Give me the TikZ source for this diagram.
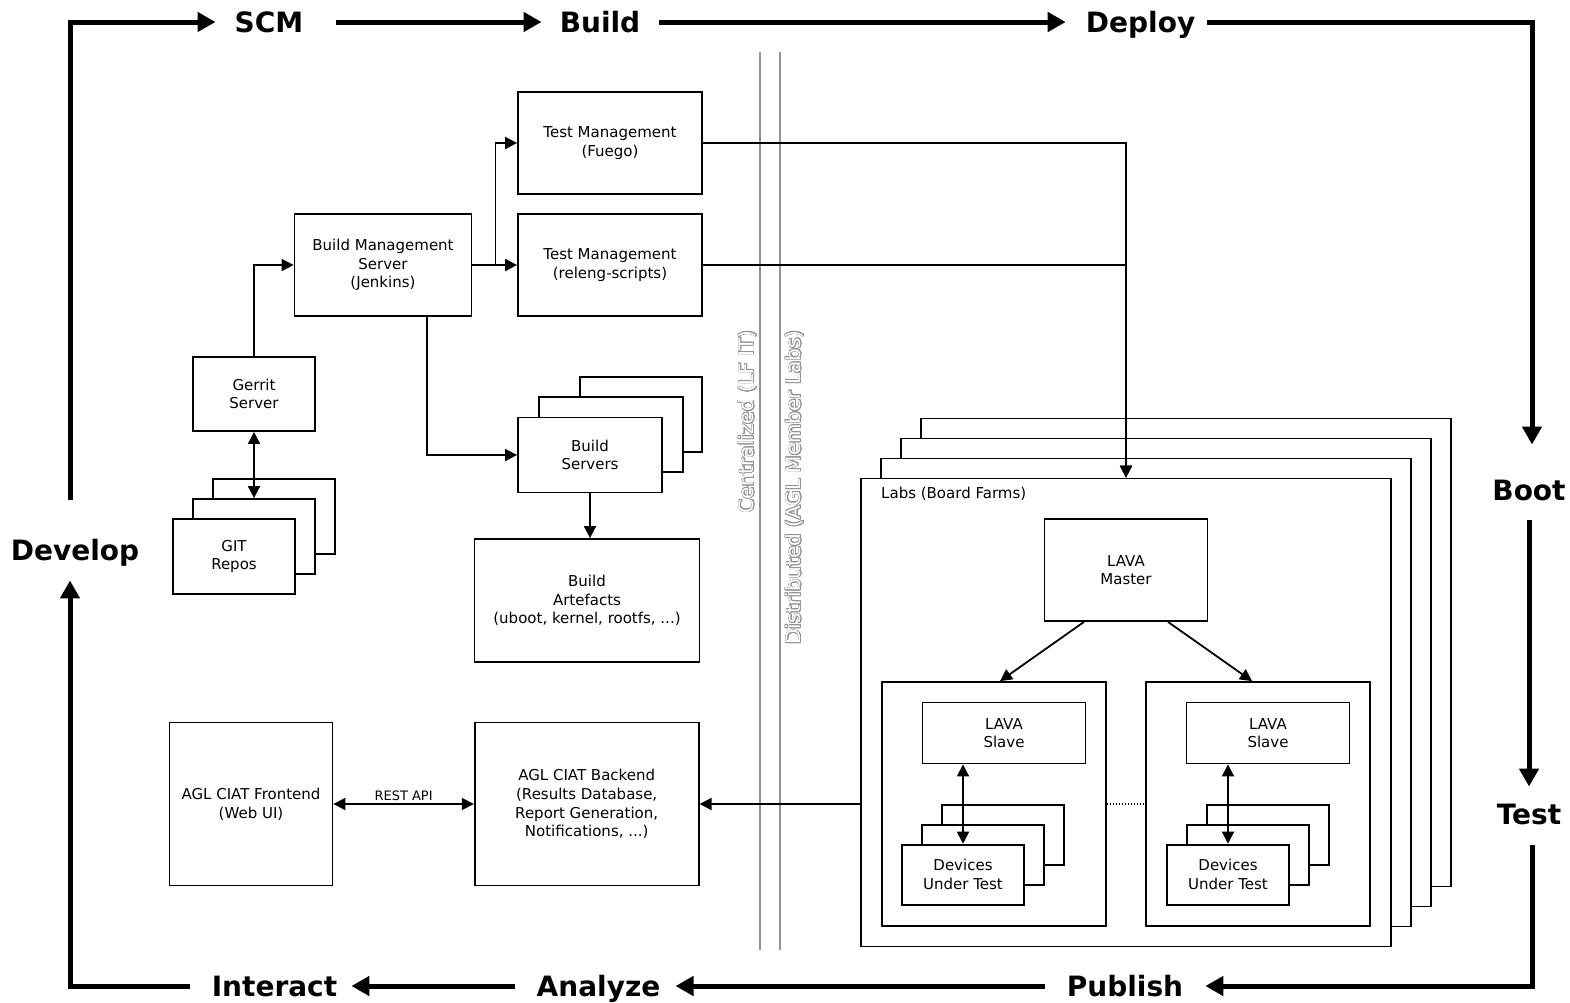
\documentclass[tikz,border=0pt]{standalone}
\usepackage{fontspec}
\setmainfont{DejaVu Sans}
\usepackage[copies]{contour}
\contourlength{0.8pt}
\usetikzlibrary{arrows.meta}
\begin{document}
\begin{tikzpicture}[x=1pt,y=-1pt,
  box/.style={draw, line width=1.8pt, fill=white, align=center, inner sep=0pt, font=\fontsize{15}{18.6}\selectfont},
  back/.style={draw, line width=1.8pt, fill=white, inner sep=0pt},
  conn/.style={line width=1.8pt, -{Triangle[length=12pt,width=12pt]}},
  dconn/.style={line width=1.8pt, {Triangle[length=12pt,width=12pt]}-{Triangle[length=12pt,width=12pt]}},
  dotline/.style={line width=1.5pt, dash pattern=on 1.5pt off 1.5pt},
  cyc/.style={font=\fontsize{28}{30}\selectfont\bfseries, inner sep=0pt, text height=20.5pt, text depth=0pt},
  big/.style={line width=5pt, -{Triangle[length=18pt,width=19pt]}},
  divider/.style={line width=1.4pt, draw=gray!85},
  vlabel/.style={rotate=90, anchor=east, inner sep=0pt, font=\fontsize{20}{22}\selectfont},
]
\fill[white] (0,0) rectangle (1570,1002);
\useasboundingbox (0,0) rectangle (1570,1002);

% cycle labels
\node[cyc] (scm) at (269,22) {SCM};
\node[cyc] (build) at (600,22) {Build};
\node[cyc] (deploy) at (1140.6,22) {Deploy};
\node[cyc] (boot) at (1529,490) {Boot};
\node[cyc] (test) at (1529,814) {Test};
\node[cyc] (publish) at (1125,986) {Publish};
\node[cyc] (analyze) at (598.5,986) {Analyze};
\node[cyc] (interact) at (274.5,986) {Interact};
\node[cyc] (develop) at (75,550) {Develop};

% cycle connectors
\draw[big, shorten >=19pt] ([shift={(-5,-40)}]develop.north) |- (scm.west);
\draw[big, shorten <=33pt, shorten >=18pt] (scm.east) -- (build.west);
\draw[big, shorten <=18.5pt, shorten >=20pt] (build.east) -- (deploy.west);
\draw[big, shorten <=12pt, shorten >=35pt] (deploy.east) -| ([xshift=3pt]boot.north);
\draw[big, shorten <=20pt, shorten >=17pt] (boot.south) -- (test.north);
\draw[big, shorten <=21pt, shorten >=22pt] ([xshift=3pt]test.south) |- (publish.east);
\draw[big, shorten <=22pt, shorten >=15pt] (publish.west) -- (analyze.east);
\draw[big, shorten <=21pt, shorten >=14pt] (analyze.west) -- (interact.east);
\draw[big, shorten <=22pt, shorten >=20pt] (interact.west) -| ([xshift=-5pt]develop.south);

% dividers
\draw[divider] (760,52) coordinate (d1a) -- (760,950) coordinate (d1b);
\draw[divider] (780,52) coordinate (d2a) -- (780,950) coordinate (d2b);
\node[vlabel] (central) at (748,330) {\contour{gray!85}{\textcolor{white}{Centralized (LF IT)}}};
\node[vlabel] (distrib) at (795,330) {\contour{gray!85}{\textcolor{white}{Distributed (AGL Member Labs)}}};

% centralized boxes
\node[box, minimum width=184pt, minimum height=102pt] (tmf) at (610,143) {Test Management\\(Fuego)};
\node[box, minimum width=184pt, minimum height=102pt] (tmr) at (610,265) {Test Management\\(releng-scripts)};
\node[box, minimum width=177pt, minimum height=102pt] (bms) at (383,265) {Build Management\\Server\\(Jenkins)};
\node[box, minimum width=122pt, minimum height=74pt] (gerrit) at (254,394) {Gerrit\\Server};

\node[back, minimum width=122pt, minimum height=75pt] (git3) at (274,516.5) {};
\node[back, minimum width=122pt, minimum height=75pt] (git2) at (254,536.5) {};
\node[box, minimum width=122pt, minimum height=75pt] (git) at (234,556.5) {GIT\\Repos};

\node[back, minimum width=122pt, minimum height=75pt] (bs3) at (641,414.5) {};
\node[back, minimum width=144pt, minimum height=75pt] (bs2) at (611,434.5) {};
\node[box, minimum width=144pt, minimum height=75pt] (bs) at (590,455) {Build\\Servers};

\node[box, minimum width=225pt, minimum height=123pt] (art) at (587,600.5) {Build\\Artefacts\\(uboot, kernel, rootfs, ...)};

\node[box, minimum width=163pt, minimum height=163pt] (frontend) at (251,804) {AGL CIAT Frontend\\(Web UI)};
\node[box, minimum width=224pt, minimum height=163pt] (backend) at (586.7,804) {AGL CIAT Backend\\(Results Database,\\Report Generation,\\Notifications, ...)};

% labs stack
\node[back, minimum width=530pt, minimum height=468pt] (labs4) at (1186,652.5) {};
\node[back, minimum width=530pt, minimum height=468pt] (labs3) at (1166,672.5) {};
\node[back, minimum width=530pt, minimum height=468pt] (labs2) at (1146,692.5) {};
\node[box, minimum width=530pt, minimum height=468pt] (labs) at (1126,712.5) {};
\node[anchor=west, inner sep=0pt, font=\fontsize{15}{18.6}\selectfont] (labslbl) at (881,494) {Labs (Board Farms)};

\node[box, minimum width=163pt, minimum height=102pt] (master) at (1126,570) {LAVA\\Master};
\node[box, minimum width=224pt, minimum height=244pt] (contL) at (994,804) {};
\node[box, minimum width=224pt, minimum height=244pt] (contR) at (1258,804) {};
\node[box, minimum width=163pt, minimum height=61pt] (slaveL) at (1004,733) {LAVA\\Slave};
\node[box, minimum width=163pt, minimum height=61pt] (slaveR) at (1268,733) {LAVA\\Slave};

\node[back, minimum width=122pt, minimum height=60pt] (dutL3) at (1003,834.6) {};
\node[back, minimum width=122pt, minimum height=60pt] (dutL2) at (983,854.6) {};
\node[box, minimum width=122pt, minimum height=60pt] (dutL) at (963,874.6) {Devices\\Under Test};
\node[back, minimum width=122pt, minimum height=60pt] (dutR3) at (1268,834.6) {};
\node[back, minimum width=122pt, minimum height=60pt] (dutR2) at (1248,854.6) {};
\node[box, minimum width=122pt, minimum height=60pt] (dutR) at (1228,874.6) {Devices\\Under Test};

% connectors
\draw[conn] (gerrit.north) |- (bms.west);
\draw[dconn] (gerrit.south) -- (git2.north);
\draw[conn] (bms.east) -- (tmr.west);
\draw[conn] ([xshift=23pt]bms.east) |- (tmf.west);
\draw[conn] ([xshift=44pt]bms.south) |- (bs.west);
\draw[conn] (bs.south) -- (bs.south |- art.north);
\draw[conn] (tmf.east) -| (labs.north);
\draw[conn] (tmr.east) -| (labs.north);
\draw[conn] ([xshift=-42pt]master.south) -- ([xshift=6pt]contL.north);
\draw[conn] ([xshift=42pt]master.south) -- ([xshift=-6pt]contR.north);
\draw[dconn] (slaveL.south -| dutL.north) -- (dutL.north);
\draw[dconn] (slaveR.south -| dutR.north) -- (dutR.north);
\draw[dotline] (contL.east) -- (contR.west);
\draw[conn] (labs.west |- backend.east) -- (backend.east);
\draw[dconn] (frontend.east) -- (backend.west) node[midway, above=2pt, inner sep=0pt, font=\fontsize{13}{15}\selectfont] (rest) {REST API};
\end{tikzpicture}
\end{document}
